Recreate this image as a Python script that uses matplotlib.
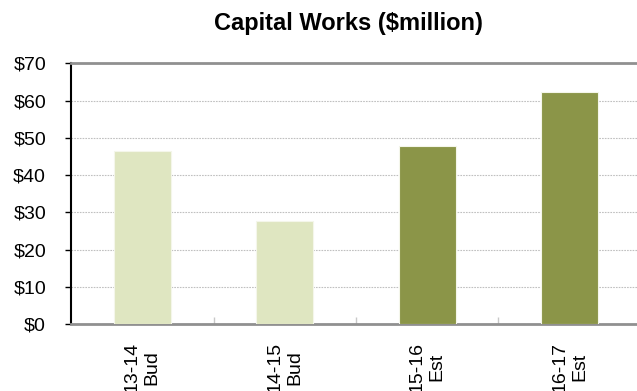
import matplotlib.pyplot as plt

plt.rcParams['font.family'] = ['Liberation Sans', 'DejaVu Sans']

# data
labels = ['13-14\nBud', '14-15\nBud', '15-16\nEst', '16-17\nEst']
values = [46.5, 27.7, 47.7, 62.4]
colors = ['#dfe6c1', '#dfe6c1', '#8b9548', '#8b9548']
yticks = [0, 10, 20, 30, 40, 50, 60, 70]

fig = plt.figure(figsize=(6.37, 3.91), dpi=100)
ax = fig.add_axes([0.1115, 0.171, 0.8885, 0.667])

x = range(len(labels))
ax.bar(x, values, width=0.40, color=colors, edgecolor='#f4f6ea', linewidth=0.8, zorder=3)

ax.set_ylim(0, 70)
ax.set_xlim(-0.5, 3.472)
ax.set_yticks(yticks)
ax.set_yticklabels(['$%d' % v for v in yticks], fontsize=14)
ax.set_xticks(list(x))
ax.set_xticklabels(labels, rotation=90, fontsize=14, ha='center', va='top')
ax.tick_params(axis='x', length=0, pad=13)
ax.tick_params(axis='y', length=4.5, width=1, direction='out', color='#000000', pad=13.5)

# small ticks between categories
ax.set_xticks([0.5, 1.5, 2.5], minor=True)
ax.tick_params(axis='x', which='minor', length=5, direction='in', color='#c8c8c8', width=1)

ax.yaxis.grid(True, linestyle=(0, (1.5, 1)), color='#c0c0c0', linewidth=0.8, zorder=0)
ax.set_axisbelow(True)

ax.spines['left'].set_color('black')
ax.spines['left'].set_linewidth(1.5)
ax.spines['bottom'].set_color('#909090')
ax.spines['bottom'].set_linewidth(2)
ax.spines['top'].set_color('#909090')
ax.spines['top'].set_linewidth(2)
ax.spines['right'].set_visible(False)

fig.text(0.547, 0.939, 'Capital Works ($million)', ha='center', va='center',
         fontsize=17, fontweight='bold')

fig.savefig('out.png', dpi=100)
